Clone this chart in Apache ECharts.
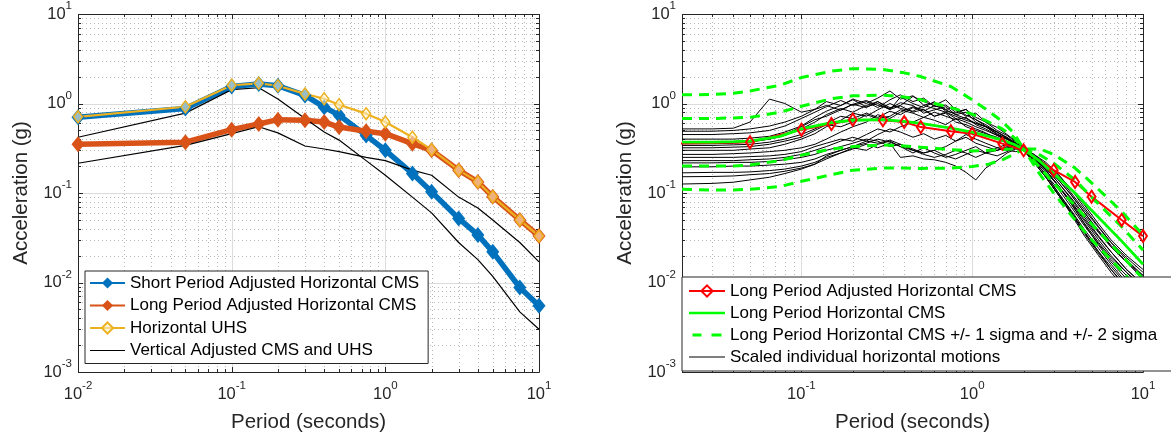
<!DOCTYPE html>
<html><head><meta charset="utf-8">
<script src="https://cdn.jsdelivr.net/npm/echarts@6/dist/echarts.min.js"></script>
<style>html,body{margin:0;padding:0;background:#fff}#c{width:1171px;height:438px}</style>
</head><body><div id="c"></div>
<script>
// ---------- data: left panel ----------
const leftPeriods = [0.01,0.05,0.1,0.15,0.2,0.3,0.4,0.5,0.75,1,1.5,2,3,4,5,7.5,10];
const shortCMS    = [0.70,0.88,1.55,1.65,1.58,1.23,0.91,0.74,0.44,0.30,0.165,0.103,0.052,0.034,0.022,0.0088,0.0055];
const longCMS     = [0.35,0.37,0.51,0.59,0.66,0.65,0.62,0.545,0.49,0.46,0.356,0.30,0.18,0.133,0.091,0.050,0.033];
const horizUHS    = [0.71,0.92,1.60,1.68,1.58,1.28,1.13,0.97,0.77,0.62,0.42,0.305,0.18,0.133,0.091,0.050,0.033];
const vertUHS     = [0.42,0.78,1.43,1.50,1.12,0.68,0.48,0.39,0.23,0.158,0.09,0.06,0.028,0.018,0.0117,0.0047,0.003];
const vertCMS     = [0.215,0.34,0.46,0.55,0.47,0.335,0.31,0.29,0.25,0.23,0.18,0.158,0.09,0.068,0.05,0.028,0.017];

// ---------- data: right panel ----------
const sigmaPeriods = [0.02,0.03,0.04,0.05,0.075,0.1,0.15,0.2,0.3,0.4,0.5,0.75,1,1.25,1.5,1.75,2,2.5,3,4,5,7.5,10];
const cmsMedian = [0.37,0.37,0.375,0.38,0.43,0.52,0.61,0.65,0.66,0.63,0.60,0.53,0.48,0.43,0.39,0.35,0.31,0.225,0.165,0.10,0.064,0.029,0.016];
const cmsPlus1  = [0.68,0.68,0.69,0.70,0.80,0.93,1.13,1.22,1.24,1.18,1.10,0.90,0.76,0.62,0.52,0.42,0.31,0.265,0.215,0.14,0.09,0.042,0.023];
const cmsPlus2  = [1.25,1.26,1.30,1.38,1.60,1.95,2.30,2.45,2.40,2.20,2.00,1.55,1.10,0.82,0.63,0.47,0.31,0.31,0.27,0.19,0.13,0.062,0.034];
const cmsMinus1 = [0.20,0.20,0.20,0.205,0.23,0.265,0.31,0.33,0.345,0.335,0.325,0.305,0.295,0.30,0.305,0.31,0.31,0.19,0.13,0.072,0.045,0.02,0.011];
const cmsMinus2 = [0.11,0.108,0.108,0.11,0.118,0.135,0.16,0.18,0.19,0.19,0.188,0.19,0.198,0.21,0.235,0.27,0.31,0.16,0.10,0.05,0.03,0.0135,0.0075];

const motionPeriods = [0.02,0.03,0.04,0.05,0.065,0.08,0.1,0.12,0.14,0.17,0.2,0.24,0.28,0.33,0.38,0.45,0.52,0.6,0.7,0.8,0.92,1.05,1.2,1.4,1.6,1.8,2.0,2.3,2.7,3.2,3.8,4.5,5.5,6.5,8,10];
const motion01 = [0.52,0.52,0.53,0.62,1.12,1.0,0.80,0.86,0.95,0.84,0.98,0.90,1.05,0.86,0.94,0.80,0.86,0.72,0.78,0.62,0.58,0.52,0.47,0.40,0.36,0.33,0.31,0.25,0.18,0.12,0.075,0.047,0.028,0.019,0.013,0.0085];
const motion02 = [0.49,0.49,0.50,0.52,0.56,0.62,0.72,0.86,1.05,0.95,1.12,1.0,1.15,1.38,1.12,1.22,0.96,1.02,0.86,0.90,0.74,0.66,0.56,0.48,0.41,0.36,0.32,0.26,0.20,0.14,0.095,0.062,0.037,0.025,0.017,0.011];
const motion03 = [0.45,0.45,0.46,0.47,0.50,0.56,0.68,0.80,0.92,1.08,0.95,1.05,0.90,1.10,1.25,1.05,1.15,0.92,0.96,0.80,0.86,0.70,0.62,0.54,0.45,0.38,0.33,0.25,0.18,0.12,0.076,0.046,0.026,0.017,0.011,0.007];
const motion04 = [0.40,0.40,0.40,0.41,0.43,0.48,0.56,0.70,0.82,0.95,1.10,0.92,1.0,0.85,1.18,1.0,0.90,1.05,0.82,0.78,0.86,0.66,0.58,0.48,0.42,0.36,0.31,0.22,0.15,0.095,0.06,0.036,0.021,0.014,0.0085,0.0055];
const motion05 = [0.37,0.37,0.37,0.38,0.40,0.44,0.52,0.62,0.75,0.88,0.80,0.95,1.05,0.90,0.95,1.2,1.05,0.95,1.1,0.85,0.72,0.78,0.62,0.50,0.44,0.37,0.32,0.27,0.21,0.15,0.10,0.066,0.041,0.028,0.019,0.013];
const motion06 = [0.355,0.355,0.36,0.37,0.40,0.45,0.55,0.66,0.72,0.85,0.98,1.08,0.95,0.88,1.02,0.95,0.78,0.85,0.92,0.75,0.68,0.60,0.55,0.45,0.40,0.35,0.31,0.23,0.16,0.10,0.064,0.04,0.024,0.016,0.010,0.0068];
const motion07 = [0.34,0.34,0.345,0.35,0.37,0.40,0.45,0.52,0.60,0.72,0.68,0.78,0.70,0.82,0.75,0.90,0.82,0.95,0.85,0.75,0.80,0.62,0.55,0.48,0.41,0.36,0.31,0.25,0.19,0.13,0.085,0.055,0.033,0.022,0.014,0.0095];
const motion08 = [0.32,0.32,0.325,0.33,0.35,0.38,0.42,0.50,0.58,0.55,0.62,0.75,0.68,0.72,0.85,0.78,0.70,0.80,0.72,0.66,0.70,0.58,0.52,0.44,0.40,0.35,0.30,0.22,0.15,0.095,0.058,0.034,0.020,0.013,0.008,0.005];
const motion09 = [0.30,0.30,0.30,0.31,0.32,0.35,0.40,0.46,0.55,0.65,0.78,0.72,0.85,1.0,0.88,0.82,0.95,0.88,0.80,0.72,0.65,0.60,0.55,0.46,0.40,0.35,0.31,0.26,0.21,0.16,0.11,0.075,0.045,0.030,0.020,0.014];
const motion10 = [0.27,0.27,0.275,0.28,0.29,0.30,0.32,0.35,0.40,0.48,0.55,0.62,0.75,0.68,0.80,0.92,0.85,0.72,0.80,0.68,0.62,0.55,0.50,0.44,0.38,0.34,0.30,0.23,0.16,0.11,0.07,0.044,0.027,0.018,0.012,0.008];
const motion11 = [0.25,0.25,0.25,0.255,0.26,0.27,0.29,0.33,0.36,0.40,0.38,0.45,0.52,0.48,0.55,0.62,0.70,0.65,0.58,0.68,0.55,0.50,0.46,0.42,0.37,0.34,0.31,0.25,0.19,0.13,0.088,0.058,0.036,0.025,0.017,0.012];
const motion12 = [0.23,0.23,0.23,0.235,0.24,0.25,0.27,0.30,0.33,0.38,0.42,0.38,0.45,0.52,0.48,0.42,0.46,0.40,0.44,0.38,0.42,0.36,0.33,0.30,0.32,0.33,0.31,0.24,0.17,0.12,0.078,0.05,0.03,0.02,0.013,0.009];
const motion13 = [0.217,0.217,0.22,0.22,0.225,0.235,0.25,0.27,0.30,0.33,0.36,0.40,0.38,0.33,0.35,0.30,0.28,0.30,0.33,0.38,0.45,0.40,0.36,0.32,0.35,0.33,0.30,0.23,0.16,0.10,0.062,0.038,0.022,0.015,0.0095,0.0062];
const motion14 = [0.196,0.196,0.20,0.20,0.205,0.21,0.22,0.24,0.27,0.30,0.33,0.36,0.40,0.37,0.33,0.28,0.32,0.28,0.25,0.27,0.30,0.33,0.28,0.30,0.33,0.32,0.31,0.27,0.22,0.16,0.11,0.07,0.042,0.028,0.018,0.012];
const motion15 = [0.168,0.17,0.17,0.172,0.178,0.185,0.20,0.22,0.25,0.28,0.31,0.35,0.32,0.36,0.25,0.26,0.24,0.235,0.22,0.20,0.17,0.14,0.19,0.23,0.28,0.31,0.30,0.22,0.15,0.095,0.06,0.037,0.022,0.014,0.009,0.006];
const motion16 = [0.152,0.153,0.155,0.16,0.165,0.175,0.19,0.21,0.24,0.28,0.32,0.30,0.35,0.38,0.33,0.30,0.27,0.25,0.27,0.30,0.28,0.25,0.28,0.32,0.30,0.29,0.30,0.24,0.18,0.12,0.08,0.052,0.032,0.022,0.014,0.0095];
const motion17 = [0.126,0.128,0.132,0.14,0.15,0.165,0.185,0.21,0.26,0.30,0.33,0.38,0.36,0.39,0.35,0.31,0.28,0.30,0.26,0.24,0.27,0.30,0.28,0.26,0.29,0.32,0.31,0.25,0.19,0.14,0.095,0.062,0.038,0.026,0.017,0.011];
const motions = [motion01,motion02,motion03,motion04,motion05,motion06,motion07,motion08,motion09,motion10,motion11,motion12,motion13,motion14,motion15,motion16,motion17];

// ---------- rendering ----------
const FONT = "'Liberation Sans', Arial, Helvetica, sans-serif";
const TXT = '#262626';
const pairs = (xs, ys) => xs.map((x, i) => [x, ys[i]]);

function decorData(xmin, xmax, ymin, ymax) {
  const out = [];
  for (let e = Math.floor(Math.log10(xmin)); e <= Math.ceil(Math.log10(xmax)); e++)
    for (let m = 1; m <= 9; m++) {
      const v = m * Math.pow(10, e);
      if (v >= xmin * 0.999999 && v <= xmax * 1.000001) out.push([v, ymin, m === 1 ? 0 : 1]);
    }
  for (let e = Math.floor(Math.log10(ymin)); e <= Math.ceil(Math.log10(ymax)); e++)
    for (let m = 1; m <= 9; m++) {
      const v = m * Math.pow(10, e);
      if (v >= ymin * 0.999999 && v <= ymax * 1.000001) out.push([xmin, v, m === 1 ? 2 : 3]);
    }
  out.push([xmin, ymin, 4]);
  return out;
}
function renderDecor(params, api) {
  const cs = params.coordSys;
  const L = Math.round(cs.x), R = Math.round(cs.x + cs.width), T = Math.round(cs.y), B = Math.round(cs.y + cs.height);
  const k = api.value(2);
  const tick = {stroke: TXT, lineWidth: 1};
  const ch = [];
  if (k === 4) {
    ch.push({type: 'rect', shape: {x: L + 0.5, y: T + 0.5, width: R - L, height: B - T}, style: {fill: 'none', stroke: TXT, lineWidth: 1}});
    return {type: 'group', children: ch};
  }
  const major = (k === 0 || k === 2);
  const gs = major ? {stroke: '#dcdcdc', lineWidth: 1} : {stroke: '#b9b9b9', lineWidth: 1, lineDash: [1, 3]};
  const len = major ? 5 : 3;
  const p = api.coord([api.value(0), api.value(1)]);
  if (k < 2) {
    const x = Math.round(p[0]) + 0.5;
    if (x > L + 1.5 && x < R - 1.5) ch.push({type: 'line', shape: {x1: x, y1: T, x2: x, y2: B}, style: gs});
    ch.push({type: 'line', shape: {x1: x, y1: B, x2: x, y2: B - len}, style: tick});
    ch.push({type: 'line', shape: {x1: x, y1: T, x2: x, y2: T + len}, style: tick});
  } else {
    const y = Math.round(p[1]) + 0.5;
    if (y > T + 1.5 && y < B - 1.5) ch.push({type: 'line', shape: {x1: L, y1: y, x2: R, y2: y}, style: gs});
    ch.push({type: 'line', shape: {x1: L, y1: y, x2: L + len, y2: y}, style: tick});
    ch.push({type: 'line', shape: {x1: R, y1: y, x2: R - len, y2: y}, style: tick});
  }
  return {type: 'group', children: ch};
}

function powLabel(v) {
  const e = Math.round(Math.log10(v));
  if (Math.abs(v / Math.pow(10, e) - 1) > 1e-6) return '';
  return '{b|10}{s|' + e + '}';
}
const rich = {
  b: {fontSize: 16.5, lineHeight: 28, fontFamily: FONT, color: TXT, verticalAlign: 'middle'},
  s: {fontSize: 11.5, lineHeight: 13, fontFamily: FONT, color: TXT, verticalAlign: 'top'}
};
function xAxisCfg(idx, min, max) {
  return {type: 'log', logBase: 10, gridIndex: idx, min: min, max: max,
    axisLine: {show: false}, axisTick: {show: false}, splitLine: {show: false}, minorTick: {show: false},
    axisLabel: {formatter: powLabel, rich: rich, margin: 8, showMinLabel: true, showMaxLabel: true},
    name: 'Period (seconds)', nameLocation: 'middle', nameGap: 40,
    nameTextStyle: {fontSize: 20.5, color: TXT, fontFamily: FONT}};
}
function yAxisCfg(idx) {
  return {type: 'log', logBase: 10, gridIndex: idx, min: 0.001, max: 10,
    axisLine: {show: false}, axisTick: {show: false}, splitLine: {show: false}, minorTick: {show: false},
    axisLabel: {formatter: powLabel, rich: rich, margin: 6, showMinLabel: true, showMaxLabel: true},
    name: 'Acceleration (g)', nameLocation: 'middle', nameGap: 46,
    nameTextStyle: {fontSize: 20.5, color: TXT, fontFamily: FONT}};
}

const BLUE = '#0072BD', ORANGE = '#D95319', YELLOW = '#EDB120', GREEN = '#00FF00', RED = '#FF0000';
const THIN = 'path://M0,0L0.01,0L0,0.01Z M0,14L0.01,14L0,13.99Z M0,6.5L36,6.5L36,7.5L0,7.5Z';
const THICK = 'path://M0,0L0.01,0L0,0.01Z M0,14L0.01,14L0,13.99Z M0,5.8L36,5.8L36,8.2L0,8.2Z';
const DASH = 'path://M0,0L0.01,0L0,0.01Z M0,14L0.01,14L0,13.99Z M0,5.5L9,5.5L9,8.5L0,8.5Z M19,5.5L29,5.5L29,8.5L19,8.5Z';

const series = [];
series.push({type: 'custom', name: 'decorL', xAxisIndex: 0, yAxisIndex: 0, silent: true, z: 1,
  dimensions: ['x', 'y', 'k'], encode: {x: 0, y: 1}, data: decorData(0.01, 10, 0.001, 10), renderItem: renderDecor});
series.push({type: 'custom', name: 'decorR', xAxisIndex: 1, yAxisIndex: 1, silent: true, z: 1,
  dimensions: ['x', 'y', 'k'], encode: {x: 0, y: 1}, data: decorData(0.02, 10, 0.001, 10), renderItem: renderDecor});

const lineBase = {type: 'line', silent: true, z: 2, emphasis: {disabled: true}, animation: false};
series.push(Object.assign({}, lineBase, {name: 'Short Period Adjusted Horizontal CMS', xAxisIndex: 0, yAxisIndex: 0,
  data: pairs(leftPeriods, shortCMS), symbol: 'diamond', symbolSize: [13, 16],
  lineStyle: {color: BLUE, width: 5.5}, itemStyle: {color: BLUE}}));
series.push(Object.assign({}, lineBase, {name: 'Long Period Adjusted Horizontal CMS', xAxisIndex: 0, yAxisIndex: 0,
  data: pairs(leftPeriods, longCMS), symbol: 'diamond', symbolSize: [13, 16],
  lineStyle: {color: ORANGE, width: 5.5}, itemStyle: {color: ORANGE}}));
series.push(Object.assign({}, lineBase, {name: 'Horizontal UHS', xAxisIndex: 0, yAxisIndex: 0,
  data: pairs(leftPeriods, horizUHS), symbol: 'diamond', symbolSize: [9, 12],
  lineStyle: {color: YELLOW, width: 2.2}, itemStyle: {color: 'rgba(255,240,200,0.6)', borderColor: YELLOW, borderWidth: 1.5}}));
[vertUHS, vertCMS].forEach(v => series.push(Object.assign({}, lineBase, {name: 'Vertical Adjusted CMS and UHS',
  xAxisIndex: 0, yAxisIndex: 0, data: pairs(leftPeriods, v), symbol: 'none', showSymbol: false,
  lineStyle: {color: '#000', width: 1.2}, itemStyle: {color: '#000'}})));

motions.forEach(m => series.push(Object.assign({}, lineBase, {name: 'Scaled individual horizontal motions',
  xAxisIndex: 1, yAxisIndex: 1, data: pairs(motionPeriods, m), symbol: 'none', showSymbol: false,
  lineStyle: {color: '#000', width: 1}, itemStyle: {color: '#000'}})));
series.push(Object.assign({}, lineBase, {name: 'Long Period Adjusted Horizontal CMS ', xAxisIndex: 1, yAxisIndex: 1,
  data: pairs(leftPeriods, longCMS), symbol: 'diamond', symbolSize: [8, 12],
  lineStyle: {color: RED, width: 2}, itemStyle: {color: 'rgba(255,255,255,0)', borderColor: RED, borderWidth: 2}}));
[cmsPlus2, cmsPlus1, cmsMinus1, cmsMinus2].forEach(v => series.push(Object.assign({}, lineBase, {
  name: 'Long Period Horizontal CMS +/- 1 sigma and +/- 2 sigma', xAxisIndex: 1, yAxisIndex: 1,
  data: pairs(sigmaPeriods, v), symbol: 'none', showSymbol: false,
  lineStyle: {color: GREEN, width: 3, type: [10, 7]}, itemStyle: {color: GREEN}})));
series.push(Object.assign({}, lineBase, {name: 'Long Period Horizontal CMS', xAxisIndex: 1, yAxisIndex: 1,
  data: pairs(sigmaPeriods, cmsMedian), symbol: 'none', showSymbol: false,
  lineStyle: {color: GREEN, width: 2.8}, itemStyle: {color: GREEN}}));

const legendText = {fontSize: 17, color: '#000', fontFamily: FONT, lineHeight: 17};
const option = {
  animation: false,
  backgroundColor: '#fff',
  grid: [
    {left: 78, top: 14, width: 461, height: 358, show: false},
    {left: 682, top: 14, width: 461, height: 358, show: false}
  ],
  xAxis: [xAxisCfg(0, 0.01, 10), xAxisCfg(1, 0.02, 10)],
  yAxis: [yAxisCfg(0), yAxisCfg(1)],
  legend: [
    {left: 85, top: 271, orient: 'vertical', selectedMode: false, itemWidth: 35, itemHeight: 14, itemGap: 5.5,
     padding: [3.5, 9, 4.5, 4], backgroundColor: '#fff', borderColor: TXT, borderWidth: 1, borderRadius: 0,
     textStyle: legendText,
     data: [{name: 'Short Period Adjusted Horizontal CMS'}, {name: 'Long Period Adjusted Horizontal CMS'},
            {name: 'Horizontal UHS'}, {name: 'Vertical Adjusted CMS and UHS', icon: THIN}]},
    {left: 682, top: 277, orient: 'vertical', selectedMode: false, itemWidth: 36, itemHeight: 14, itemGap: 5,
     padding: [5.5, 60, 5.5, 6], backgroundColor: '#fff', borderColor: TXT, borderWidth: 1, borderRadius: 0,
     textStyle: legendText,
     data: [{name: 'Long Period Adjusted Horizontal CMS '}, {name: 'Long Period Horizontal CMS', icon: THICK},
            {name: 'Long Period Horizontal CMS +/- 1 sigma and +/- 2 sigma', icon: DASH},
            {name: 'Scaled individual horizontal motions', icon: THIN}]}
  ],
  series: series
};
const chart = echarts.init(document.getElementById('c'), null, {renderer: 'canvas'});
chart.setOption(option);
</script></body></html>
